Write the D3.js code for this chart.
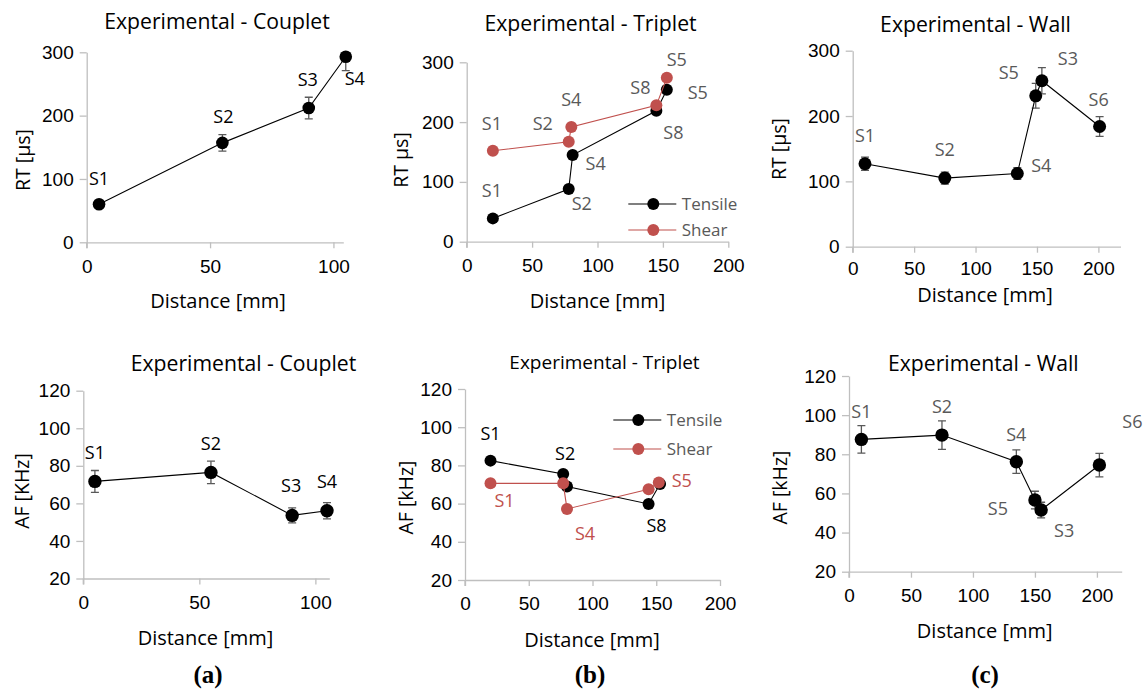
<!DOCTYPE html>
<html>
<head>
<meta charset="utf-8">
<script src="https://cdn.jsdelivr.net/npm/d3@7"></script>
<style>
  body { margin: 0; background: #fff; }
  svg { font-family: "Open Sans", sans-serif; }
</style>
</head>
<body>
<svg id="fig" width="1143" height="689"></svg>
<script>
//////////////////////////////////////////////////////////////
////////////////////// Data (read off) ///////////////////////
//////////////////////////////////////////////////////////////

// (a) Couplet
var couDist = [5, 55, 90, 105],
    couRt = [60, 157, 212, 293],
    couRtErr = [2, 13, 17, 22],
    couAf = [71.7, 76.5, 53.6, 56.1],
    couAfErr = [5.8, 6, 4, 4.3],
    couLabels = ["S1", "S2", "S3", "S4"];

// (b) Triplet
var tripLabels = ["S1", "S2", "S4", "S8", "S5"],
    tripRtTenDist = [20, 78, 81, 145, 153],
    tripRtTen = [39, 88, 145, 219, 254],
    tripRtSheDist = [20, 78, 80, 145, 153],
    tripRtShe = [152, 167, 192, 228, 274],
    tripAfTenDist = [20, 77, 80, 144, 153],
    tripAfTen = [82.5, 75.5, 68.9, 59.8, 70.3],
    tripAfSheDist = [20, 77, 80, 144, 152],
    tripAfShe = [70.6, 70.6, 57.2, 67.5, 71.1],
    tripAfTenLabels = ["S1", "S2", "", "S8", ""],
    tripAfSheLabels = ["S1", "", "S4", "", "S5"];

// (c) Wall
var wallLabels = ["S1", "S2", "S4", "S5", "S3", "S6"],
    wallRtDist = [10, 75, 134, 149, 154, 201],
    wallRt = [127, 105, 112, 231, 254, 184],
    wallRtErr = [10, 9, 9, 19, 20, 15],
    wallAfDist = [10, 75, 135, 150, 155, 202],
    wallAf = [87.6, 89.8, 76.2, 56.6, 51.5, 74.5],
    wallAfErr = [7, 7.3, 6, 4.5, 4, 6];

var rtTicks = [0, 100, 200, 300],
    afTicks = [20, 40, 60, 80, 100, 120],
    distTicks100 = [0, 50, 100],
    distTicks200 = [0, 50, 100, 150, 200];

var tensileColor = "#000000",
    shearColor = "#C0504D",
    labelGrey = "#595959",
    axisGrey = "#BFBFBF";

var svg = d3.select("#fig");

//////////////////////////////////////////////////////////////
////////////////////// Panel drawer //////////////////////////
//////////////////////////////////////////////////////////////

function drawPanel(p) {
	var x = d3.scaleLinear().domain(p.xDomain).range([p.left, p.right]),
		y = d3.scaleLinear().domain(p.yDomain).range([p.bottom, p.top]);

	var g = svg.append("g");

	//Axes
	var yAxis = g.append("g")
		.attr("transform", "translate(" + p.left + ",0)")
		.call(d3.axisLeft(y).tickValues(p.yTicks).tickSize(7).tickPadding(6).tickSizeOuter(0));
	var xAxis = g.append("g")
		.attr("transform", "translate(0," + p.bottom + ")")
		.call(d3.axisBottom(x).tickValues(p.xTicks).tickSize(6).tickPadding(p.xPad || 11).tickSizeOuter(0));
	[xAxis, yAxis].forEach(function(a) {
		a.select(".domain").attr("stroke", axisGrey).attr("stroke-width", 1.3);
		a.selectAll(".tick line").attr("stroke", axisGrey).attr("stroke-width", 1.3);
		a.selectAll(".tick text").attr("fill", "#000").style("font-size", "19px");
	});
	g.append("line")
		.attr("x1", p.left).attr("x2", p.left)
		.attr("y1", p.bottom).attr("y2", p.bottom + 6)
		.attr("stroke", axisGrey).attr("stroke-width", 1.3);

	//Titles
	g.append("text")
		.attr("x", p.titleX).attr("y", p.titleY)
		.attr("text-anchor", "middle")
		.attr("dy", "0.35em")
		.style("font-size", p.titleSize + "px")
		.text(p.title);
	g.append("text")
		.attr("transform", "translate(" + p.yLabelX + "," + p.yLabelY + ") rotate(-90)")
		.attr("text-anchor", "middle")
		.attr("dy", "0.35em")
		.style("font-size", "19.5px")
		.text(p.yLabel);
	g.append("text")
		.attr("x", p.xLabelX).attr("y", p.xLabelY)
		.attr("text-anchor", "middle")
		.attr("dy", "0.35em")
		.style("font-size", "20px")
		.text("Distance [mm]");

	var clipId = "clip" + p.id;
	g.append("clipPath").attr("id", clipId)
		.append("rect")
		.attr("x", p.left - 20).attr("y", y(p.yDomain[1]))
		.attr("width", p.right - p.left + 40).attr("height", p.bottom - y(p.yDomain[1]));

	p.series.forEach(function(s) {
		var pts = s.dist.map(function(d, i) { return {x: d, y: s.vals[i], e: s.err ? s.err[i] : 0, lab: s.labels[i], off: s.offsets[i]}; });

		//Error bars
		if (s.err) {
			var eb = g.append("g").attr("clip-path", "url(#" + clipId + ")")
				.selectAll("g").data(pts).enter().append("g")
				.attr("stroke", "#595959").attr("stroke-width", 1.3);
			eb.append("line")
				.attr("x1", function(d) { return x(d.x); }).attr("x2", function(d) { return x(d.x); })
				.attr("y1", function(d) { return y(d.y - d.e); }).attr("y2", function(d) { return y(d.y + d.e); });
			eb.append("line")
				.attr("x1", function(d) { return x(d.x) - 4; }).attr("x2", function(d) { return x(d.x) + 4; })
				.attr("y1", function(d) { return y(d.y - d.e); }).attr("y2", function(d) { return y(d.y - d.e); });
			eb.append("line")
				.attr("x1", function(d) { return x(d.x) - 4; }).attr("x2", function(d) { return x(d.x) + 4; })
				.attr("y1", function(d) { return y(d.y + d.e); }).attr("y2", function(d) { return y(d.y + d.e); });
		}

		//Line
		g.append("path")
			.datum(pts)
			.attr("fill", "none")
			.attr("stroke", s.color)
			.attr("stroke-width", 1.1)
			.attr("d", d3.line().x(function(d) { return x(d.x); }).y(function(d) { return y(d.y); }));

		//Markers
		g.selectAll(null).data(pts).enter().append("circle")
			.attr("cx", function(d) { return x(d.x); })
			.attr("cy", function(d) { return y(d.y); })
			.attr("r", p.markerR)
			.attr("fill", s.color);

		//Point labels
		g.selectAll(null).data(pts.filter(function(d) { return d.lab; })).enter().append("text")
			.attr("x", function(d) { return x(d.x) + d.off[0]; })
			.attr("y", function(d) { return y(d.y) + d.off[1]; })
			.attr("text-anchor", "middle")
			.attr("dy", "0.35em")
			.attr("fill", s.labelColor)
			.style("font-size", "18px")
			.text(function(d) { return d.lab; });
	});

	//Legend
	if (p.legend) {
		p.series.forEach(function(s, i) {
			var ly = p.legend.y + i * p.legend.step;
			g.append("line")
				.attr("x1", p.legend.x).attr("x2", p.legend.x + 48)
				.attr("y1", ly).attr("y2", ly)
				.attr("stroke", s.color).attr("stroke-width", 1.1);
			g.append("circle")
				.attr("cx", p.legend.x + 25).attr("cy", ly).attr("r", p.markerR)
				.attr("fill", s.color);
			g.append("text")
				.attr("x", p.legend.x + 53.5).attr("y", ly)
				.attr("dy", "0.35em")
				.attr("fill", labelGrey)
				.style("font-size", "17px")
				.text(s.name);
		});
	}
}

//////////////////////////////////////////////////////////////
////////////////////// The six panels ////////////////////////
//////////////////////////////////////////////////////////////

drawPanel({
	id: 1, title: "Experimental - Couplet", titleX: 217, titleY: 22, titleSize: 21.2,
	left: 86.7, right: 343.3, top: 52.3, bottom: 242.3,
	xDomain: [0, 104], yDomain: [0, 300], xTicks: distTicks100, yTicks: rtTicks,
	yLabel: "RT [µs]", yLabelX: 23.3, yLabelY: 160, xLabelX: 218, xLabelY: 301, markerR: 6.3,
	series: [{dist: couDist, vals: couRt, err: couRtErr, labels: couLabels, color: tensileColor, labelColor: "#000",
		offsets: [[0, -26], [1, -26], [-1, -28], [9, 22]]}]
});

drawPanel({
	id: 2, title: "Experimental - Triplet", titleX: 590.5, titleY: 23.5, titleSize: 21.2,
	left: 466.7, right: 728.3, top: 62.3, bottom: 241.7,
	xDomain: [0, 200], yDomain: [0, 300], xTicks: distTicks200, yTicks: rtTicks,
	yLabel: "RT µs]", yLabelX: 400.7, yLabelY: 160, xLabelX: 597.5, xLabelY: 301, markerR: 6,
	legend: {x: 628.3, y: 204, step: 26},
	series: [
		{name: "Tensile", dist: tripRtTenDist, vals: tripRtTen, labels: tripLabels, color: tensileColor, labelColor: labelGrey,
			offsets: [[-1, -28], [13, 15], [23, 9], [17, 22], [31, 3]]},
		{name: "Shear", dist: tripRtSheDist, vals: tripRtShe, labels: tripLabels, color: shearColor, labelColor: labelGrey,
			offsets: [[-1, -27], [-26, -18], [0, -27], [-16, -18], [10, -18]]}
	]
});

drawPanel({
	id: 3, title: "Experimental - Wall", titleX: 975.5, titleY: 25, titleSize: 21.2,
	left: 852.7, right: 1120.5, top: 50.7, bottom: 246.7, xPad: 9,
	xDomain: [0, 218], yDomain: [0, 300], xTicks: distTicks200, yTicks: rtTicks,
	yLabel: "RT [µs]", yLabelX: 779, yLabelY: 149, xLabelX: 985, xLabelY: 295, markerR: 6.5,
	series: [{dist: wallRtDist, vals: wallRt, err: wallRtErr, labels: wallLabels, color: tensileColor, labelColor: labelGrey,
		offsets: [[0, -28], [0, -28], [24, -8], [-27, -23], [26, -22], [-1, -27]]}]
});

drawPanel({
	id: 4, title: "Experimental - Couplet", titleX: 243.5, titleY: 363.3, titleSize: 21.2,
	left: 83.3, right: 329.3, top: 390.7, bottom: 578.5,
	xDomain: [0, 106], yDomain: [20, 120], xTicks: distTicks100, yTicks: afTicks,
	yLabel: "AF [KHz]", yLabelX: 21.7, yLabelY: 491, xLabelX: 205.5, xLabelY: 638, markerR: 6.7,
	series: [{dist: couDist, vals: couAf, err: couAfErr, labels: couLabels, color: tensileColor, labelColor: "#000",
		offsets: [[0, -29], [0, -29], [-1, -30], [0, -29]]}]
});

drawPanel({
	id: 5, title: "Experimental - Triplet", titleX: 604.5, titleY: 362.7, titleSize: 19,
	left: 465, right: 720, top: 389, bottom: 580,
	xDomain: [0, 200], yDomain: [20, 120], xTicks: distTicks200, yTicks: afTicks,
	yLabel: "AF [kHz]", yLabelX: 405.7, yLabelY: 497.5, xLabelX: 592, xLabelY: 639.5, markerR: 6,
	legend: {x: 613.3, y: 420, step: 29},
	series: [
		{name: "Tensile", dist: tripAfTenDist, vals: tripAfTen, labels: tripAfTenLabels, color: tensileColor, labelColor: "#000",
			offsets: [[0, -27], [2, -20], [0, 0], [8, 22], [0, 0]]},
		{name: "Shear", dist: tripAfSheDist, vals: tripAfShe, labels: tripAfSheLabels, color: shearColor, labelColor: shearColor,
			offsets: [[14, 17], [0, 0], [18, 25], [0, 0], [23, -2]]}
	]
});

drawPanel({
	id: 6, title: "Experimental - Wall", titleX: 983.3, titleY: 363.3, titleSize: 21.2,
	left: 849, right: 1121.7, top: 376, bottom: 571.7,
	xDomain: [0, 220], yDomain: [20, 120], xTicks: distTicks200, yTicks: afTicks,
	yLabel: "AF [kHz]", yLabelX: 780, yLabelY: 487.5, xLabelX: 984.7, xLabelY: 631, markerR: 6.7,
	series: [{dist: wallAfDist, vals: wallAf, err: wallAfErr, labels: wallLabels, color: tensileColor, labelColor: labelGrey,
		offsets: [[0, -28], [0, -28], [0, -27], [-37, 9], [23, 21], [33, -43]]}]
});

//Sub-figure captions
svg.selectAll(".caption")
	.data([{t: "(a)", x: 208}, {t: "(b)", x: 590}, {t: "(c)", x: 985}])
	.enter().append("text")
	.attr("class", "caption")
	.attr("x", function(d) { return d.x; })
	.attr("y", 683)
	.attr("text-anchor", "middle")
	.style("font-family", "'Liberation Serif', serif")
	.style("font-weight", "bold")
	.style("font-size", "25px")
	.text(function(d) { return d.t; });
</script>
</body>
</html>
